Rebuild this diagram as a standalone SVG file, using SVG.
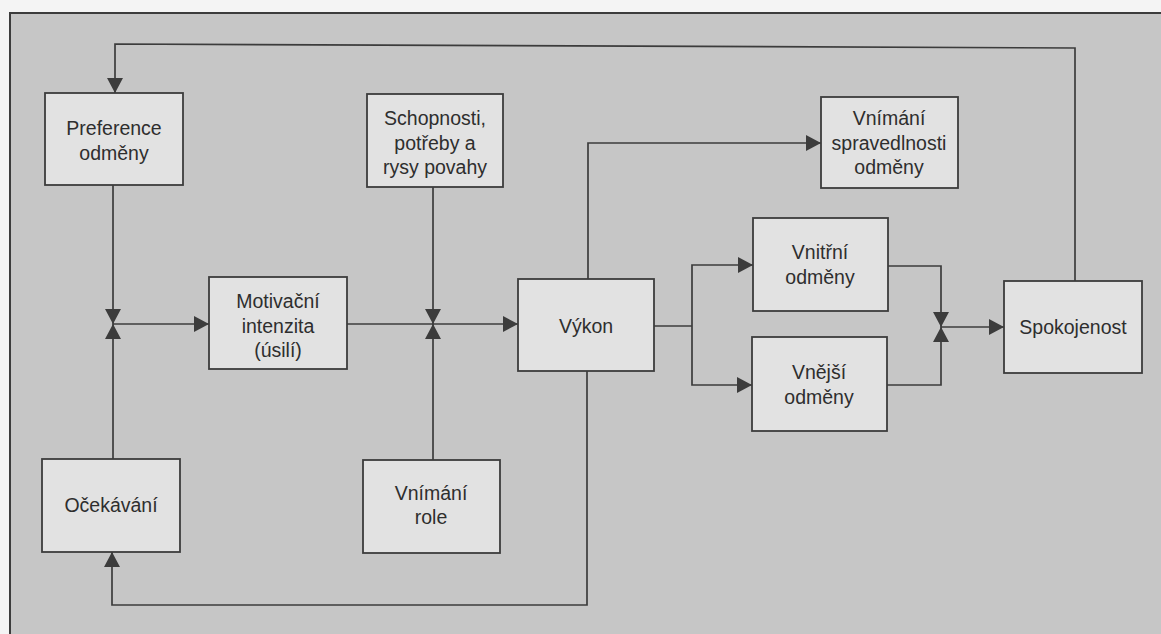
<svg xmlns="http://www.w3.org/2000/svg" width="1161" height="634" viewBox="0 0 1161 634">
<style>
.box{fill:#e2e2e2;stroke:#3c3c3c;stroke-width:1.8}
.t{font-family:"Liberation Sans",Arial,sans-serif;font-size:19.5px;fill:#2e2e2e;text-anchor:middle}
.c{fill:none;stroke:#3c3c3c;stroke-width:1.7}
.frame{fill:none;stroke:#3c3c3c;stroke-width:2}
</style>
<defs>
<marker id="ah" markerUnits="userSpaceOnUse" markerWidth="15" markerHeight="16" refX="15" refY="8" orient="auto">
<path d="M0,0 L15,8 L0,16 Z" fill="#3c3c3c"/>
</marker>
</defs>
<rect x="0" y="0" width="1161" height="634" fill="#f4f4f4"/>
<rect x="10" y="13" width="1151" height="621" fill="#c6c6c6"/>
<path class="frame" d="M10,634 V13 H1161"/>

<g id="connectors">
<path class="c" d="M113,185 V324" marker-end="url(#ah)"/>
<path class="c" d="M113,459 V324" marker-end="url(#ah)"/>
<path class="c" d="M113,324 H209" marker-end="url(#ah)"/>
<path class="c" d="M347,324 H433"/>
<path class="c" d="M433,187 V324" marker-end="url(#ah)"/>
<path class="c" d="M433,460 V324" marker-end="url(#ah)"/>
<path class="c" d="M433,324 H518" marker-end="url(#ah)"/>
<path class="c" d="M588,279 V143 H821" marker-end="url(#ah)"/>
<path class="c" d="M587,371 V605 H112 V552" marker-end="url(#ah)"/>
<path class="c" d="M654,326 H692"/>
<path class="c" d="M692,326 V265 H753" marker-end="url(#ah)"/>
<path class="c" d="M692,326 V385 H752" marker-end="url(#ah)"/>
<path class="c" d="M888,266 H941 V327" marker-end="url(#ah)"/>
<path class="c" d="M887,385 H941 V327" marker-end="url(#ah)"/>
<path class="c" d="M941,327 H1004" marker-end="url(#ah)"/>
<path class="c" d="M1075,281 V48 L115,44 V93" marker-end="url(#ah)"/>
</g>

<g id="preference">
<rect class="box" x="45" y="93" width="138" height="92"/>
<text class="t" x="114" y="135">Preference</text>
<text class="t" x="114" y="160">odměny</text>
</g>
<g id="schopnosti">
<rect class="box" x="367" y="94" width="136" height="93"/>
<text class="t" x="435" y="125">Schopnosti,</text>
<text class="t" x="435" y="150">potřeby a</text>
<text class="t" x="435" y="174">rysy povahy</text>
</g>
<g id="spravedlnost">
<rect class="box" x="821" y="97" width="137" height="91"/>
<text class="t" x="889" y="125">Vnímání</text>
<text class="t" x="889" y="149.5">spravedlnosti</text>
<text class="t" x="889" y="173.5">odměny</text>
</g>
<g id="motivacni">
<rect class="box" x="209" y="277" width="138" height="92"/>
<text class="t" x="278" y="308">Motivační</text>
<text class="t" x="278" y="333">intenzita</text>
<text class="t" x="278" y="357">(úsilí)</text>
</g>
<g id="vykon">
<rect class="box" x="518" y="279" width="136" height="92"/>
<text class="t" x="586" y="333">Výkon</text>
</g>
<g id="vnitrni">
<rect class="box" x="753" y="218" width="135" height="93"/>
<text class="t" x="820" y="259">Vnitřní</text>
<text class="t" x="820" y="284">odměny</text>
</g>
<g id="vnejsi">
<rect class="box" x="752" y="337" width="135" height="94"/>
<text class="t" x="819" y="379">Vnější</text>
<text class="t" x="819" y="404">odměny</text>
</g>
<g id="spokojenost">
<rect class="box" x="1004" y="281" width="138" height="92"/>
<text class="t" x="1073" y="334">Spokojenost</text>
</g>
<g id="ocekavani">
<rect class="box" x="42" y="459" width="138" height="93"/>
<text class="t" x="111" y="512">Očekávání</text>
</g>
<g id="role">
<rect class="box" x="363" y="460" width="137" height="93"/>
<text class="t" x="431" y="500">Vnímání</text>
<text class="t" x="431" y="524">role</text>
</g>
</svg>
